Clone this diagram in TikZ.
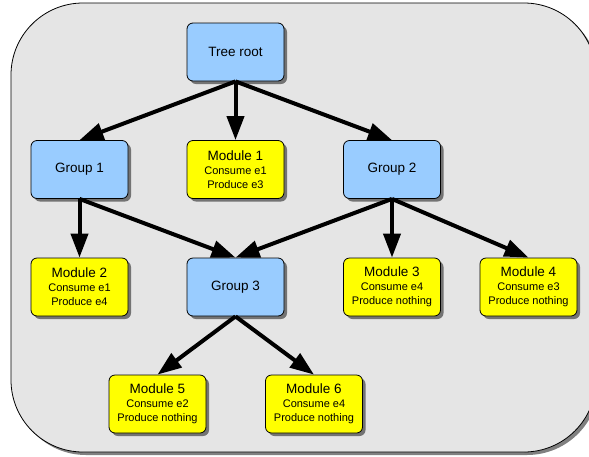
\documentclass[tikz,border=0pt]{standalone}
\usepackage{fontspec}
\setmainfont{Liberation Sans}
\usetikzlibrary{arrows.meta,shadows}
\definecolor{bgray}{HTML}{E5E5E5}
\definecolor{gblue}{HTML}{99CCFF}
\definecolor{myellow}{HTML}{FFFF00}
\begin{document}
\begin{tikzpicture}[x=1pt,y=-1pt,
  boxbase/.style={draw=black,line width=0.8pt,rounded corners=6pt,minimum width=97pt,minimum height=58pt,inner sep=0pt,align=center,
    drop shadow={shadow xshift=3pt,shadow yshift=-3pt,fill=black!55,opacity=1}},
  grp/.style={boxbase,fill=gblue,font=\fontsize{13.5}{15}\selectfont},
  mod/.style={boxbase,fill=myellow,font=\fontsize{11}{14}\selectfont},
  conn/.style={line width=4pt,-{Triangle[length=24pt,width=17pt]}}]
\useasboundingbox (0,0) rectangle (589,456);
\fill[black!50] (14,6) [rounded corners=72pt] rectangle (599,455);
\draw[fill=bgray,line width=0.8pt,rounded corners=72pt] (11,3) rectangle (596,452);
\newcommand{\mtitle}[1]{{\fontsize{13.5}{15}\selectfont #1}}
\node[grp] (root) at (235.5,52) {Tree root};
\node[grp] (g1) at (79.5,169.5) {Group 1};
\node[mod] (m1) at (235.5,169.5) {\mtitle{Module 1}\\Consume e1\\Produce e3};
\node[grp] (g2) at (392,169.5) {Group 2};
\node[mod] (m2) at (79.5,287) {\mtitle{Module 2}\\Consume e1\\Produce e4};
\node[grp] (g3) at (235.5,287) {Group 3};
\node[mod] (m3) at (392,287) {\mtitle{Module 3}\\Consume e4\\Produce nothing};
\node[mod] (m4) at (528.5,287) {\mtitle{Module 4}\\Consume e3\\Produce nothing};
\node[mod] (m5) at (157.5,404) {\mtitle{Module 5}\\Consume e2\\Produce nothing};
\node[mod] (m6) at (314,404) {\mtitle{Module 6}\\Consume e4\\Produce nothing};
\draw[conn] (root.south) -- (g1.north);
\draw[conn] (root.south) -- (m1.north);
\draw[conn] (root.south) -- (g2.north);
\draw[conn] (g1.south) -- (m2.north);
\draw[conn] (g1.south) -- (g3.north);
\draw[conn] (g2.south) -- (g3.north);
\draw[conn] (g2.south) -- (m3.north);
\draw[conn] (g2.south) -- (m4.north);
\draw[conn] (g3.south) -- (m5.north);
\draw[conn] (g3.south) -- (m6.north);
\end{tikzpicture}
\end{document}
